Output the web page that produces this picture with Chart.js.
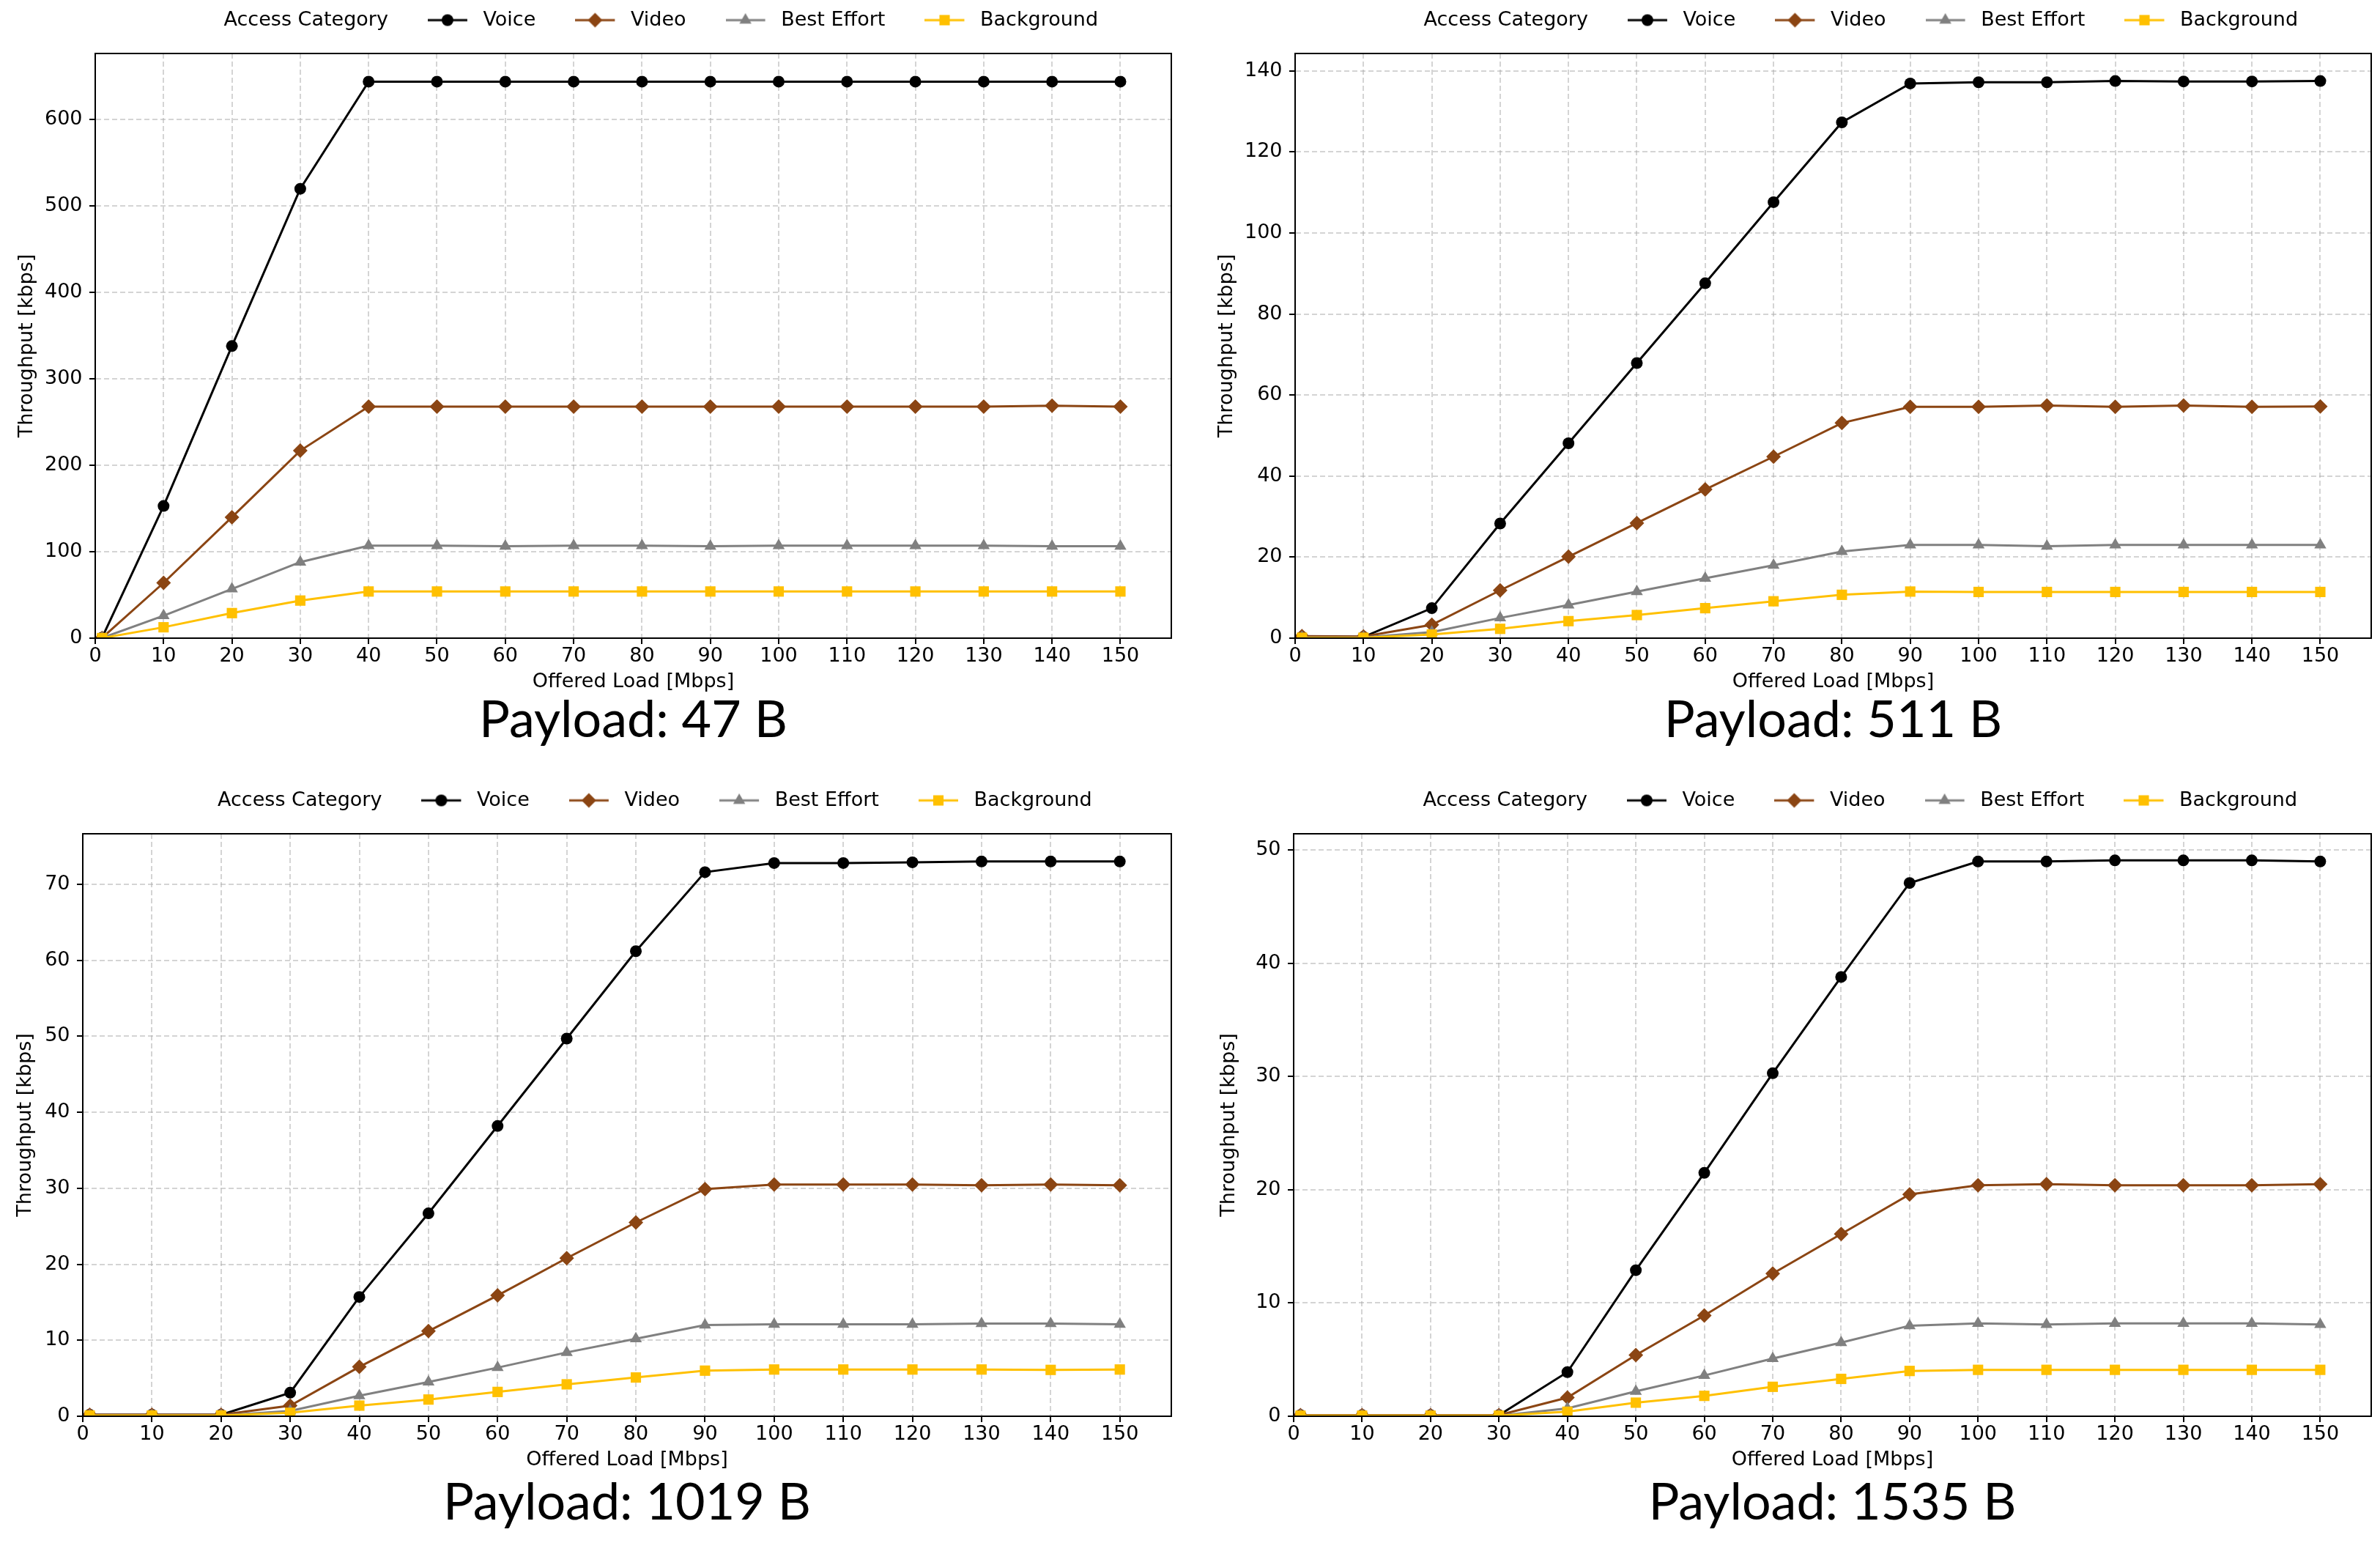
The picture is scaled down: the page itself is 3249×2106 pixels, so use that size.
<!DOCTYPE html>
<html>
<head>
<meta charset="utf-8">
<title>Throughput vs Offered Load per Access Category</title>
<script src="https://cdn.jsdelivr.net/npm/chart.js@4.4.1/dist/chart.umd.min.js"></script>
<style>
  html, body { margin: 0; padding: 0; background: #ffffff; }
  #page { position: relative; width: 3249px; height: 2106px; overflow: hidden; background: #ffffff; }
  #page canvas { position: absolute; }
</style>
</head>
<body>
<div id="page"></div>
<script>
// ================= DATA =================
const offeredLoad = [1, 10, 20, 30, 40, 50, 60, 70, 80, 90, 100, 110, 120, 130, 140, 150];
const xTicks = [0, 10, 20, 30, 40, 50, 60, 70, 80, 90, 100, 110, 120, 130, 140, 150];
const accessCategories = ['Voice', 'Video', 'Best Effort', 'Background'];
const legendTitle = 'Access Category';
const xAxisLabel = 'Offered Load [Mbps]';
const yAxisLabel = 'Throughput [kbps]';
const payloadLabels = ['Payload: 47 B', 'Payload: 511 B', 'Payload: 1019 B', 'Payload: 1535 B'];

// Payload 47 B
const voice47      = [0.5, 153, 338, 520, 644, 644, 644, 644, 644, 644, 644, 644, 644, 644, 644, 644];
const video47      = [0.3, 64, 140, 217, 268, 268, 268, 268, 268, 268, 268, 268, 268, 268, 269, 268];
const bestEffort47 = [0.2, 26, 57, 88, 107, 107, 106.5, 107, 107, 106.5, 107, 107, 107, 107, 106.5, 106.5];
const background47 = [0.1, 12.6, 29, 43.5, 54, 54, 54, 54, 54, 54, 54, 54, 54, 54, 54, 54];
const yTicks47 = [0, 100, 200, 300, 400, 500, 600];

// Payload 511 B
const voice511      = [0.3, 0.3, 7.4, 28.3, 48.1, 67.9, 87.6, 107.6, 127.3, 136.9, 137.2, 137.2, 137.5, 137.4, 137.4, 137.5];
const video511      = [0.5, 0.4, 3.3, 11.8, 20.1, 28.4, 36.7, 44.8, 53.1, 57.1, 57.1, 57.4, 57.1, 57.4, 57.1, 57.2];
const bestEffort511 = [0.2, 0.2, 1.5, 5.0, 8.2, 11.5, 14.8, 18.0, 21.4, 23.0, 23.0, 22.7, 23.0, 23.0, 23.0, 23.0];
const background511 = [0.1, 0.1, 0.9, 2.3, 4.2, 5.7, 7.4, 9.1, 10.7, 11.5, 11.4, 11.4, 11.4, 11.4, 11.4, 11.4];
const yTicks511 = [0, 20, 40, 60, 80, 100, 120, 140];

// Payload 1019 B
const voice1019      = [0.2, 0.2, 0.2, 3.1, 15.7, 26.7, 38.2, 49.7, 61.2, 71.6, 72.8, 72.8, 72.9, 73.0, 73.0, 73.0];
const video1019      = [0.2, 0.2, 0.2, 1.4, 6.5, 11.2, 15.9, 20.8, 25.5, 29.9, 30.5, 30.5, 30.5, 30.4, 30.5, 30.4];
const bestEffort1019 = [0.1, 0.1, 0.1, 0.7, 2.7, 4.5, 6.4, 8.4, 10.2, 12.0, 12.1, 12.1, 12.1, 12.2, 12.2, 12.1];
const background1019 = [0.1, 0.1, 0.1, 0.45, 1.4, 2.2, 3.2, 4.2, 5.1, 6.0, 6.15, 6.15, 6.15, 6.15, 6.1, 6.15];
const yTicks1019 = [0, 10, 20, 30, 40, 50, 60, 70];

// Payload 1535 B
const voice1535      = [0.1, 0.1, 0.1, 0.1, 3.9, 12.9, 21.5, 30.3, 38.8, 47.1, 49.0, 49.0, 49.1, 49.1, 49.1, 49.0];
const video1535      = [0.1, 0.1, 0.1, 0.1, 1.65, 5.4, 8.9, 12.6, 16.1, 19.6, 20.4, 20.5, 20.4, 20.4, 20.4, 20.5];
const bestEffort1535 = [0.05, 0.05, 0.05, 0.05, 0.7, 2.2, 3.6, 5.1, 6.5, 8.0, 8.2, 8.1, 8.2, 8.2, 8.2, 8.1];
const background1535 = [0.05, 0.05, 0.05, 0.05, 0.4, 1.2, 1.8, 2.6, 3.3, 4.0, 4.1, 4.1, 4.1, 4.1, 4.1, 4.1];
const yTicks1535 = [0, 10, 20, 30, 40, 50];

// axis limits
const xAxisMin = 0;
const xAxisMax = 157.45;
const yAxisMax = [676.6, 144.3, 76.65, 51.45];

// ================= STYLE / LAYOUT =================
const seriesColors  = ['#000000', '#8B4513', '#808080', '#FFC000'];
const seriesMarkers = ['circle', 'rectRot', 'triangle', 'rect'];
const markerRadius  = [8, 10, 9.5, 10];
const LINE_W = 3;
const FONT = 'DejaVu Sans';
const FS = 27;              // tick / label / legend font size
const LEG_PAD = 54;         // legend column spacing
const HANDLE_LEN = 54;      // legend handle length
const HANDLE_BOX = 62.1;    // handle + extra text pad
const XH = 75.7;            // x-axis box height
const TITLE_FONT = 'Lato';
const TITLE_SIZE = 70;
const TITLE_LH = 0.9;

const frames = [
  { L: 130,  T: 73,   R: 1599, B: 871,  yw: 130, legendY: 27.5,   yTitleX: 37,   titleBaseline: 1010 },
  { L: 1768, T: 73,   R: 3237, B: 871,  yw: 130, legendY: 27.5,   yTitleX: 1675, titleBaseline: 1010 },
  { L: 113,  T: 1138, R: 1599, B: 1933, yw: 113, legendY: 1092.5, yTitleX: 35,   titleBaseline: 2078 },
  { L: 1766, T: 1138, R: 3237, B: 1933, yw: 130, legendY: 1092.5, yTitleX: 1678, titleBaseline: 2078 }
];

const panels = [
  { label: payloadLabels[0], series: [voice47, video47, bestEffort47, background47], yTicks: yTicks47, yMax: yAxisMax[0] },
  { label: payloadLabels[1], series: [voice511, video511, bestEffort511, background511], yTicks: yTicks511, yMax: yAxisMax[1] },
  { label: payloadLabels[2], series: [voice1019, video1019, bestEffort1019, background1019], yTicks: yTicks1019, yMax: yAxisMax[2] },
  { label: payloadLabels[3], series: [voice1535, video1535, bestEffort1535, background1535], yTicks: yTicks1535, yMax: yAxisMax[3] }
];

Chart.defaults.font.family = FONT;
Chart.defaults.color = '#000000';

function drawMarker(g, style, r, x, y) {
  if (Chart.helpers && Chart.helpers.drawPoint) {
    Chart.helpers.drawPoint(g, { pointStyle: style, radius: r, rotation: 0, borderWidth: 0 }, x, y);
    return;
  }
  g.beginPath();
  if (style === 'circle') g.arc(x, y, r, 0, Math.PI * 2);
  else if (style === 'rectRot') { g.moveTo(x - r, y); g.lineTo(x, y - r); g.lineTo(x + r, y); g.lineTo(x, y + r); g.closePath(); }
  else if (style === 'triangle') { g.moveTo(x, y - r); g.lineTo(x + r * 0.866, y + r / 2); g.lineTo(x - r * 0.866, y + r / 2); g.closePath(); }
  else { const s = r * Math.SQRT1_2; g.rect(x - s, y - s, 2 * s, 2 * s); }
  g.fill();
}

function makeHandle(i) {
  const c = document.createElement('canvas');
  c.width = 62; c.height = 30;
  const g = c.getContext('2d');
  if (i >= 0) {
    g.strokeStyle = seriesColors[i];
    g.lineWidth = LINE_W;
    g.beginPath(); g.moveTo(0, 15); g.lineTo(HANDLE_LEN, 15); g.stroke();
    g.fillStyle = seriesColors[i];
    drawMarker(g, seriesMarkers[i], markerRadius[i], HANDLE_LEN / 2, 15);
  }
  return c;
}
const blankHandle = makeHandle(-1);
const handles = accessCategories.map((_, i) => makeHandle(i));

function middleOffset(fontStr, size) {
  const g = document.createElement('canvas').getContext('2d');
  g.font = fontStr;
  const m = g.measureText('Payload: 0 B');
  if (m.fontBoundingBoxAscent !== undefined) return (m.fontBoundingBoxAscent - m.fontBoundingBoxDescent) / 2;
  return 0.387 * size;
}

const page = document.getElementById('page');

panels.forEach((p, k) => {
  const f = frames[k];
  const cx = f.L - f.yw;
  const cy = Math.round(f.legendY - (LEG_PAD + FS / 2));
  const spacer = f.T - (cy + FS + LEG_PAD + 10);
  const lh = TITLE_SIZE * TITLE_LH;
  const mid = middleOffset('normal 400 ' + TITLE_SIZE + 'px ' + TITLE_FONT, TITLE_SIZE);
  const titleCenter = f.titleBaseline - mid;
  const titleTopPad = titleCenter - (f.B + XH) - lh / 2;
  const core = (f.B - cy) + XH + lh + titleTopPad;
  const ch = Math.ceil(core + 30);
  const pb = ch - core;
  const cw = (f.R - f.L) + 2 * f.yw;
  const yTitlePad = f.yTitleX - cx - (FS * 1.2) / 2;

  const canvas = document.createElement('canvas');
  canvas.width = cw; canvas.height = ch;
  canvas.style.left = cx + 'px'; canvas.style.top = cy + 'px';
  canvas.style.width = cw + 'px'; canvas.style.height = ch + 'px';
  page.appendChild(canvas);

  const gridCfg = {
    display: true, drawOnChartArea: true, drawTicks: true,
    color: 'rgba(176,176,176,0.55)', lineWidth: 2,
    tickLength: 8, tickColor: '#000000', tickWidth: 2, tickBorderDash: []
  };
  const borderCfg = { display: true, color: '#000000', width: 2, dash: [7, 4], z: 1 };

  new Chart(canvas, {
    type: 'line',
    data: {
      datasets: p.series.map((vals, i) => ({
        label: accessCategories[i],
        data: offeredLoad.map((x, j) => ({ x: x, y: vals[j] })),
        borderColor: seriesColors[i],
        backgroundColor: seriesColors[i],
        pointBackgroundColor: seriesColors[i],
        pointBorderColor: seriesColors[i],
        pointStyle: seriesMarkers[i],
        pointRadius: markerRadius[i],
        pointHoverRadius: markerRadius[i],
        pointBorderWidth: 0,
        borderWidth: LINE_W,
        tension: 0,
        fill: false,
        order: 4 - i,
        clip: 0
      }))
    },
    options: {
      responsive: false,
      animation: false,
      events: [],
      devicePixelRatio: 1,
      layout: { autoPadding: false, padding: { left: 0, right: 0, top: 0, bottom: pb } },
      plugins: {
        tooltip: { enabled: false },
        legend: {
          display: true,
          position: 'top',
          align: 'center',
          labels: {
            usePointStyle: true,
            pointStyleWidth: HANDLE_BOX,
            padding: LEG_PAD,
            color: '#000000',
            font: { family: FONT, size: FS },
            generateLabels: (chart) => [
              { text: legendTitle, pointStyle: blankHandle, fillStyle: 'rgba(0,0,0,0)', strokeStyle: 'rgba(0,0,0,0)', lineWidth: 0, hidden: false, fontColor: '#000000' }
            ].concat(chart.data.datasets.map((ds, i) => ({
              text: ds.label, pointStyle: handles[i], fillStyle: ds.borderColor, strokeStyle: ds.borderColor,
              lineWidth: 0, hidden: false, datasetIndex: i, fontColor: '#000000'
            })))
          }
        },
        title: {
          display: true,
          position: 'bottom',
          text: p.label,
          color: '#000000',
          font: { family: TITLE_FONT, size: TITLE_SIZE, weight: 'normal', lineHeight: TITLE_LH },
          padding: { top: titleTopPad, bottom: 0 }
        }
      },
      scales: {
        x: {
          type: 'linear', position: 'bottom', min: xAxisMin, max: xAxisMax,
          afterBuildTicks: (s) => { s.ticks = xTicks.map(v => ({ value: v })); },
          afterFit: (s) => { s.height = XH; },
          ticks: { color: '#000000', font: { family: FONT, size: FS, lineHeight: 1 }, padding: 3, maxRotation: 0, minRotation: 0, autoSkip: false, includeBounds: false },
          grid: gridCfg,
          border: borderCfg,
          title: { display: true, text: xAxisLabel, color: '#000000', font: { family: FONT, size: FS }, padding: { top: 0, bottom: 0 } }
        },
        y: {
          type: 'linear', position: 'left', min: 0, max: p.yMax,
          afterBuildTicks: (s) => { s.ticks = p.yTicks.map(v => ({ value: v })); },
          afterFit: (s) => { s.width = f.yw; },
          ticks: { color: '#000000', font: { family: FONT, size: FS }, padding: 9.5, autoSkip: false, includeBounds: false },
          grid: gridCfg,
          border: borderCfg,
          title: { display: true, text: yAxisLabel, color: '#000000', font: { family: FONT, size: FS }, padding: { top: yTitlePad, bottom: 0 } }
        },
        x2: {
          type: 'linear', position: 'top', min: 0, max: 1, display: true,
          afterFit: (s) => { s.height = spacer; },
          ticks: { display: false },
          grid: { display: false },
          border: { display: true, color: '#000000', width: 2, z: 1 }
        },
        y2: {
          type: 'linear', position: 'right', min: 0, max: 1, display: true,
          afterFit: (s) => { s.width = f.yw; },
          ticks: { display: false },
          grid: { display: false },
          border: { display: true, color: '#000000', width: 2, z: 1 }
        }
      }
    }
  });
});
</script>
</body>
</html>
